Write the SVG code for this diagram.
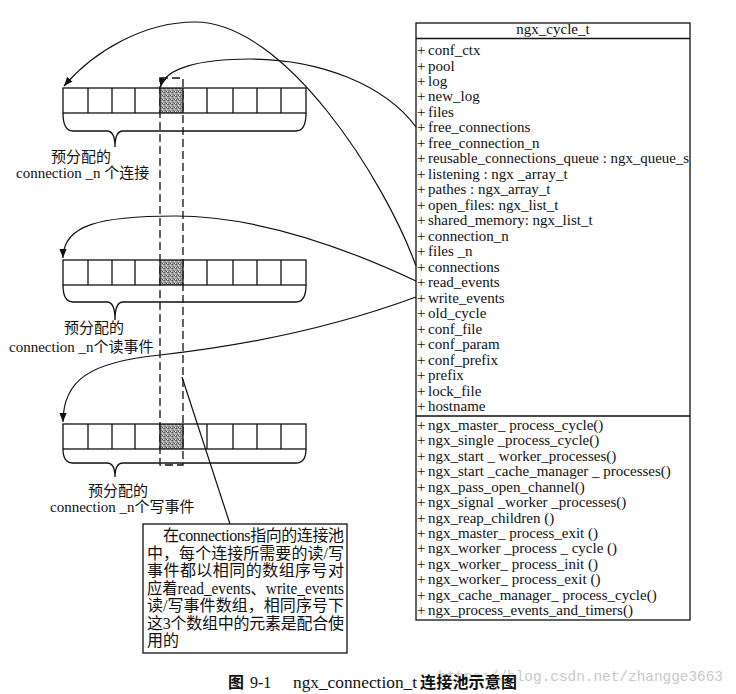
<svg xmlns="http://www.w3.org/2000/svg" xmlns:xlink="http://www.w3.org/1999/xlink" width="736" height="694" viewBox="0 0 736 694">
<style>
.ln{stroke:#111;stroke-width:1.3;fill:none}
.cv{stroke:#111;stroke-width:1.2;fill:none}
.dash{stroke:#111;stroke-width:1.3;fill:none;stroke-dasharray:8 4}
.t{font-family:"Liberation Serif","Noto Sans CJK SC",serif;font-size:15px;fill:#111}
.m{font-family:"Liberation Serif","Noto Sans CJK SC",serif;font-size:15px;fill:#111}
.n{font-family:"Liberation Serif","Noto Sans CJK SC",serif;font-size:16px;fill:#111}
.cap{font-family:"Liberation Serif","Noto Sans CJK SC",serif;font-size:16px;fill:#111}
.cj{font-family:"Noto Sans CJK SC",sans-serif;font-weight:700}
.wm{font-family:"Liberation Mono",monospace;font-size:14.4px;fill:#c8c8c8}
</style>
<defs>
<pattern id="noise" width="4" height="4" patternUnits="userSpaceOnUse">
<rect width="4" height="4" fill="#a2a2a2"/>
<rect x="0" y="0" width="1" height="1" fill="#555"/>
<rect x="2" y="1" width="1" height="1" fill="#ddd"/>
<rect x="1" y="2" width="1" height="1" fill="#6a6a6a"/>
<rect x="3" y="3" width="1" height="1" fill="#e6e6e6"/>
<rect x="3" y="0" width="1" height="1" fill="#777"/>
<rect x="0" y="3" width="1" height="1" fill="#888"/>
<rect x="2" y="3" width="1" height="1" fill="#4c4c4c"/>
</pattern>
<marker id="arr" viewBox="0 0 10 8" refX="10" refY="4" markerWidth="9" markerHeight="7.5" markerUnits="userSpaceOnUse" orient="auto">
<path d="M0,0 L10,4 L0,8 Z" fill="#111"/>
</marker>
<g id="cells">
<rect x="160" y="0" width="23" height="25" fill="url(#noise)"/>
<rect x="63" y="0" width="243" height="25" class="ln"/>
<path class="ln" d="M88,0V25M112,0V25M135,0V25M160,0V25M183,0V25M207,0V25M233,0V25M257,0V25M281,0V25"/>
</g>
</defs>
<rect width="736" height="694" fill="#fff"/>

<g id="index-column">
<path class="dash" d="M160,78 H183 V465 H160 Z"/>
</g>

<g id="connections-array">
<use xlink:href="#cells" y="88"/>
<path class="ln" d="M63,113 Q63,131 73,131 H107 Q115,131 115,147 Q115,131 123,131 H296 Q306,131 306,113"/>
<text class="t" x="81" y="162" text-anchor="middle">预分配的</text>
<text class="t" x="16" y="178">connection _n 个连接</text>
</g>

<g id="read-events-array">
<use xlink:href="#cells" y="260"/>
<path class="ln" d="M63,285 Q63,302 73,302 H107 Q115,302 115,320 Q115,302 123,302 H296 Q306,302 306,285"/>
<text class="t" x="94" y="333" text-anchor="middle">预分配的</text>
<text class="t" x="9" y="352">connection _n个读事件</text>
</g>

<g id="write-events-array">
<use xlink:href="#cells" y="424"/>
<path class="ln" d="M63,449 Q63,463 73,463 H107 Q115,463 115,477 Q115,463 123,463 H296 Q306,463 306,449"/>
<text class="t" x="118" y="496" text-anchor="middle">预分配的</text>
<text class="t" x="50" y="512">connection _n个写事件</text>
</g>

<g id="ngx-cycle-t">
<rect x="416" y="23" width="274" height="597" class="ln"/>
<path class="ln" d="M416,38.5H690M416,416H690"/>
<text class="m" x="553" y="34" text-anchor="middle">ngx_cycle_t</text>
<text class="m" y="55"><tspan x="417">+</tspan><tspan x="428">conf_ctx</tspan></text>
<text class="m" y="70.5"><tspan x="417">+</tspan><tspan x="428">pool</tspan></text>
<text class="m" y="86"><tspan x="417">+</tspan><tspan x="428">log</tspan></text>
<text class="m" y="101.4"><tspan x="417">+</tspan><tspan x="428">new_log</tspan></text>
<text class="m" y="116.9"><tspan x="417">+</tspan><tspan x="428">files</tspan></text>
<text class="m" y="132.4"><tspan x="417">+</tspan><tspan x="428">free_connections</tspan></text>
<text class="m" y="147.9"><tspan x="417">+</tspan><tspan x="428">free_connection_n</tspan></text>
<text class="m" y="163.4"><tspan x="417">+</tspan><tspan x="428" textLength="261" lengthAdjust="spacingAndGlyphs">reusable_connections_queue : ngx_queue_s</tspan></text>
<text class="m" y="178.8"><tspan x="417">+</tspan><tspan x="428">listening :  ngx _array_t</tspan></text>
<text class="m" y="194.3"><tspan x="417">+</tspan><tspan x="428">pathes : ngx_array_t</tspan></text>
<text class="m" y="209.8"><tspan x="417">+</tspan><tspan x="428">open_files:  ngx_list_t</tspan></text>
<text class="m" y="225.3"><tspan x="417">+</tspan><tspan x="428">shared_memory: ngx_list_t</tspan></text>
<text class="m" y="240.8"><tspan x="417">+</tspan><tspan x="428">connection_n</tspan></text>
<text class="m" y="256.2"><tspan x="417">+</tspan><tspan x="428">files _n</tspan></text>
<text class="m" y="271.7"><tspan x="417">+</tspan><tspan x="428">connections</tspan></text>
<text class="m" y="287.2"><tspan x="417">+</tspan><tspan x="428">read_events</tspan></text>
<text class="m" y="302.7"><tspan x="417">+</tspan><tspan x="428">write_events</tspan></text>
<text class="m" y="318.2"><tspan x="417">+</tspan><tspan x="428">old_cycle</tspan></text>
<text class="m" y="333.6"><tspan x="417">+</tspan><tspan x="428">conf_file</tspan></text>
<text class="m" y="349.1"><tspan x="417">+</tspan><tspan x="428">conf_param</tspan></text>
<text class="m" y="364.6"><tspan x="417">+</tspan><tspan x="428">conf_prefix</tspan></text>
<text class="m" y="380.1"><tspan x="417">+</tspan><tspan x="428">prefix</tspan></text>
<text class="m" y="395.6"><tspan x="417">+</tspan><tspan x="428">lock_file</tspan></text>
<text class="m" y="411"><tspan x="417">+</tspan><tspan x="428">hostname</tspan></text>
<text class="m" y="430"><tspan x="417">+</tspan><tspan x="428">ngx_master_ process_cycle()</tspan></text>
<text class="m" y="445.4"><tspan x="417">+</tspan><tspan x="428">ngx_single _process_cycle()</tspan></text>
<text class="m" y="460.8"><tspan x="417">+</tspan><tspan x="428">ngx_start _ worker_processes()</tspan></text>
<text class="m" y="476.3"><tspan x="417">+</tspan><tspan x="428">ngx_start _cache_manager _ processes()</tspan></text>
<text class="m" y="491.7"><tspan x="417">+</tspan><tspan x="428">ngx_pass_open_channel()</tspan></text>
<text class="m" y="507.1"><tspan x="417">+</tspan><tspan x="428">ngx_signal _worker _processes()</tspan></text>
<text class="m" y="522.5"><tspan x="417">+</tspan><tspan x="428">ngx_reap_children ()</tspan></text>
<text class="m" y="537.9"><tspan x="417">+</tspan><tspan x="428">ngx_master_ process_exit ()</tspan></text>
<text class="m" y="553.4"><tspan x="417">+</tspan><tspan x="428">ngx_worker _process _ cycle ()</tspan></text>
<text class="m" y="568.8"><tspan x="417">+</tspan><tspan x="428">ngx_worker_ process_init  ()</tspan></text>
<text class="m" y="584.2"><tspan x="417">+</tspan><tspan x="428">ngx_worker_ process_exit ()</tspan></text>
<text class="m" y="599.6"><tspan x="417">+</tspan><tspan x="428">ngx_cache_manager_ process_cycle()</tspan></text>
<text class="m" y="615"><tspan x="417">+</tspan><tspan x="428">ngx_process_events_and_timers()</tspan></text>
</g>

<g id="note">
<rect x="143" y="524" width="204" height="129" class="ln"/>
<text class="n" x="163" y="541" textLength="181" lengthAdjust="spacing">在connections指向的连接池</text>
<text class="n" x="147" y="558.5" textLength="197" lengthAdjust="spacing">中，每个连接所需要的读/写</text>
<text class="n" x="147" y="576" textLength="197" lengthAdjust="spacing">事件都以相同的数组序号对</text>
<text class="n" x="147" y="593.5" textLength="197" lengthAdjust="spacingAndGlyphs">应着read_events、write_events</text>
<text class="n" x="147" y="611" textLength="197" lengthAdjust="spacing">读/写事件数组，相同序号下</text>
<text class="n" x="147" y="628.5" textLength="197" lengthAdjust="spacing">这3个数组中的元素是配合使</text>
<text class="n" x="147" y="646">用的</text>
</g>

<g id="connectors">
<path class="cv" marker-end="url(#arr)" d="M416,266 C385,180 285,22 195,22 C145,22 95,50 64,86"/>
<path class="cv" marker-end="url(#arr)" d="M416,127 C385,85 320,59 250,59 C200,59 165,68 160.5,87"/>
<path class="cv" marker-end="url(#arr)" d="M416,281 C350,250 260,216 175,216 C100,216 63,225 63,258"/>
<path class="cv" marker-end="url(#arr)" d="M416,297 C340,325 250,345 160,355 C90,362 63,380 63,422"/>
<path class="cv" d="M182,377 L230,524"/>
</g>

<g id="caption">
<text class="wm" x="438" y="681" textLength="285" lengthAdjust="spacingAndGlyphs">https://blog.csdn.net/zhangge3663</text>
<text class="cap" y="688"><tspan x="228" class="cj">图</tspan><tspan x="250">9-1</tspan><tspan x="293" textLength="124" lengthAdjust="spacingAndGlyphs">ngx_connection_t</tspan><tspan x="420" class="cj" textLength="97" lengthAdjust="spacing">连接池示意图</tspan></text>
</g>
</svg>
